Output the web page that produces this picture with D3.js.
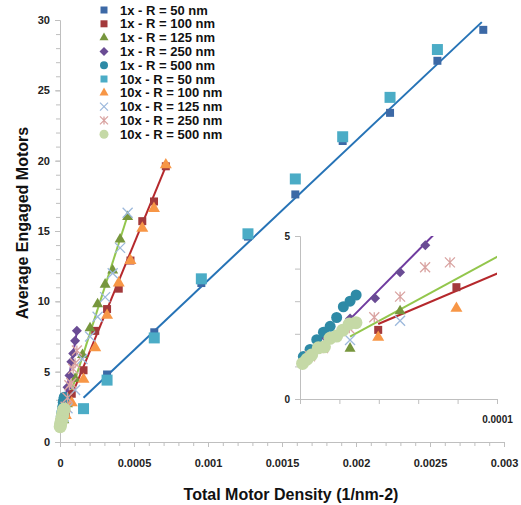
<!DOCTYPE html>
<html><head><meta charset="utf-8">
<script src="https://cdn.jsdelivr.net/npm/d3@7"></script>
<style>
body{margin:0;background:#fff;}
text{font-family:"Liberation Sans",Arial,sans-serif;font-weight:bold;}
</style>
</head><body>
<svg id="chart" width="521" height="505"></svg>
<script>
// ---------------- DATA ----------------
const seriesNames = ["1x - R = 50 nm","1x - R = 100 nm","1x - R = 125 nm","1x - R = 250 nm","1x - R = 500 nm",
  "10x - R = 50 nm","10x - R = 100 nm","10x - R = 125 nm","10x - R = 250 nm","10x - R = 500 nm"];

const x1_50  = [0.000318,0.000637,0.000955,0.00127,0.00159,0.00191,0.00223,0.00255,0.00286];
const y1_50  = [4.8,7.8,11.3,14.6,17.6,21.4,23.4,27.1,29.3];
const x1_100 = [0.0000397,0.0000794,0.000159,0.000238,0.000318,0.000397,0.000476,0.000556,0.000635,0.000715];
const y1_100 = [2.12,3.43,5.1,7.9,9.45,10.9,12.9,15.7,17.1,19.6];
const x1_125 = [0.0000254,0.0000508,0.000102,0.000152,0.000203,0.000254,0.000305,0.000356,0.000406,0.000457];
const y1_125 = [1.55,2.70,4.5,6.2,8.1,9.8,11.2,12.2,14.4,16.0];
const x1_250 = [0.0000127,0.0000254,0.0000381,0.0000508,0.0000636,0.0000763,0.000089,0.000102,0.000114];
const y1_250 = [1.9,2.47,3.09,3.89,4.72,5.7,6.3,7.2,7.9];
const x1_500 = [0.0000017,0.0000051,0.0000085,0.0000119,0.0000153,0.0000186,0.000022,0.0000254,0.0000285];
const y1_500 = [1.30,1.52,1.82,2.05,2.23,2.50,2.83,3.00,3.19];

const x10_50  = [0.000159,0.000318,0.000637,0.000955,0.00127,0.00159,0.00191,0.00223,0.00255];
const y10_50  = [2.37,4.4,7.4,11.6,14.8,18.7,21.7,24.5,27.9];
const x10_100 = [0.0000397,0.0000794,0.000159,0.000238,0.000318,0.000397,0.000476,0.000556,0.000635,0.000715];
const y10_100 = [1.89,2.78,4.45,6.7,9.0,11.3,12.9,15.2,16.6,19.7];
const x10_125 = [0.0000254,0.0000508,0.000102,0.000152,0.000203,0.000254,0.000305,0.000356,0.000406,0.000457];
const y10_125 = [1.81,2.40,3.7,5.9,7.5,8.9,10.3,12.0,13.8,16.3];
const x10_250 = [0.0000051,0.0000117,0.000025,0.0000377,0.0000508,0.0000635,0.0000761,0.000089,0.000102,0.000114];
const y10_250 = [1.31,1.56,2.17,2.51,3.14,4.04,4.19,5.2,5.6,6.5];
const x10_500 = [0.0000013,0.0000035,0.0000059,0.0000093,0.0000124,0.0000152,0.0000186,0.0000217,0.000025,0.0000284];
const y10_500 = [1.09,1.22,1.35,1.57,1.60,1.86,1.93,2.11,2.30,2.34];

// linear trendlines (start / end points)
const trendSeries = ["R = 50 nm","R = 100 nm","R = 125 nm","R = 250 nm"];
const trendX0 = [0.000159,0.0000397,0.0000254,0.0000254];
const trendY0 = [3.15,2.30,1.91,2.45];
const trendX1 = [0.00285,0.000715,0.000457,0.000114];
const trendY1 = [29.85,19.6,16.1,7.85];

// axis ticks
const mainXTicks = [0,0.0005,0.001,0.0015,0.002,0.0025,0.003];
const mainXLabels = ["0","0.0005","0.001","0.0015","0.002","0.0025","0.003"];
const mainYTicks = [0,5,10,15,20,25,30];
const mainYLabels = ["0","5","10","15","20","25","30"];
const insetXTicks = [0,0.00002,0.00004,0.00006,0.00008,0.0001];
const insetXLabels = ["","","","","","0.0001"];
const insetYTicks = [0,1,2,3,4,5];
const insetYLabels = ["0","","","","","5"];

// ---------------- STYLE ----------------
const xs = [x1_50,x1_100,x1_125,x1_250,x1_500,x10_50,x10_100,x10_125,x10_250,x10_500];
const ys = [y1_50,y1_100,y1_125,y1_250,y1_500,y10_50,y10_100,y10_125,y10_250,y10_500];
const styles = [
  {shape:"square",  fill:"#3C69A6", size:8},
  {shape:"square",  fill:"#A3393B", size:8},
  {shape:"triangle",fill:"#77963D", size:11},
  {shape:"diamond", fill:"#6A4C94", size:10},
  {shape:"circle",  fill:"#2E8AA6", size:11},
  {shape:"square",  fill:"#4BACC6", size:11},
  {shape:"triangle",fill:"#F79646", size:12},
  {shape:"x",       fill:"#9DB9DC", size:10},
  {shape:"star",    fill:"#D9A3A1", size:10},
  {shape:"circle",  fill:"#C5D9A6", size:13}
];
const legendSizes = [7,7,9,9,8,7,9,8,8,9];
const trendColors = ["#2673B6","#B5282C","#93C64C","#6F3B9F"];

function markerPath(shape, s){
  const h = s/2;
  switch(shape){
    case "square": return `M${-h},${-h}H${h}V${h}H${-h}Z`;
    case "triangle": { const hh = s*0.866; return `M0,${-hh*2/3}L${h},${hh/3}L${-h},${hh/3}Z`; }
    case "diamond": return `M0,${-h}L${h},0L0,${h}L${-h},0Z`;
    case "circle": return d3.symbol(d3.symbolCircle, Math.PI*h*h)();
    case "x": return `M${-h},${-h}L${h},${h}M${-h},${h}L${h},${-h}`;
    case "star": return `M${-h},${-h}L${h},${h}M${-h},${h}L${h},${-h}M0,${-h}V${h}`;
  }
}
function drawMarker(g, st, cx, cy, s){
  const p = g.append("path").attr("d", markerPath(st.shape, s)).attr("transform", `translate(${cx},${cy})`);
  if (st.shape==="x" || st.shape==="star") p.attr("fill","none").attr("stroke",st.fill).attr("stroke-width",1.3);
  else p.attr("fill",st.fill);
}

const svg = d3.select("#chart");
const axisColor = "#BFBFBF";
const labelColor = "#222";

function drawChart(xS, yS, xTicks, xLabels, yTicks, yLabels, xMinor, yMinor, fs, clipId){
  const [x0,x1] = xS.range(), [y0,y1] = yS.range();
  const g = svg.append("g");
  const gxm = g.append("g").attr("transform",`translate(0,${y0})`)
    .call(d3.axisBottom(xS).tickValues(xMinor).tickSize(4).tickFormat(""));
  const gym = g.append("g").attr("transform",`translate(${x0},0)`)
    .call(d3.axisLeft(yS).tickValues(yMinor).tickSize(4).tickFormat(""));
  [gxm,gym].forEach(a=>{a.select(".domain").remove(); a.selectAll("line").attr("stroke",axisColor);});
  const gx = g.append("g").attr("transform",`translate(0,${y0})`)
    .call(d3.axisBottom(xS).tickValues(xTicks).tickSize(5).tickPadding(12).tickFormat((d,i)=>xLabels[i]));
  const gy = g.append("g").attr("transform",`translate(${x0},0)`)
    .call(d3.axisLeft(yS).tickValues(yTicks).tickSize(5).tickPadding(5).tickFormat((d,i)=>yLabels[i]));
  [gx,gy].forEach(a=>{
    a.select(".domain").attr("stroke",axisColor);
    a.selectAll("line").attr("stroke",axisColor);
    a.selectAll("text").attr("fill",labelColor).style("font-size",fs+"px").style("font-family","Liberation Sans, Arial, sans-serif").style("font-weight","bold");
  });
  svg.append("clipPath").attr("id",clipId).append("rect")
    .attr("x",x0).attr("y",y1).attr("width",x1-x0).attr("height",y0-y1);
  const lg = g.append("g").attr("clip-path",`url(#${clipId})`);
  trendX0.forEach((tx,i)=>{
    lg.append("line").attr("x1",xS(tx)).attr("y1",yS(trendY0[i]))
      .attr("x2",xS(trendX1[i])).attr("y2",yS(trendY1[i]))
      .attr("stroke",trendColors[i]).attr("stroke-width",2);
  });
  const [dx0,dx1] = xS.domain(), [dy0,dy1] = yS.domain();
  const mg = g.append("g");
  xs.forEach((xa,si)=>{
    xa.forEach((xv,j)=>{
      const yv = ys[si][j];
      if (xv<dx0||xv>dx1||yv<dy0||yv>dy1) return;
      drawMarker(mg, styles[si], xS(xv), yS(yv), styles[si].size);
    });
  });
  return g;
}

const xMain = d3.scaleLinear().domain([0,0.003]).range([60,504]);
const yMain = d3.scaleLinear().domain([0,30]).range([442,20]);
drawChart(xMain, yMain, mainXTicks, mainXLabels, mainYTicks, mainYLabels,
  d3.range(0,31).map(i=>i*0.0001), d3.range(0,31), 11, "clipMain");

const xIn = d3.scaleLinear().domain([0,0.0001]).range([300,497]);
const yIn = d3.scaleLinear().domain([0,5]).range([399,236]);
drawChart(xIn, yIn, insetXTicks, insetXLabels, insetYTicks, insetYLabels,
  [], [], 10, "clipInset");

svg.append("text").attr("x",291).attr("y",500).attr("text-anchor","middle")
  .style("font-size","16px").attr("fill","#111").text("Total Motor Density (1/nm-2)");
svg.append("text").attr("transform","translate(28,223) rotate(-90)").attr("text-anchor","middle")
  .style("font-size","16px").attr("fill","#111").text("Average Engaged Motors");

const leg = svg.append("g");
seriesNames.forEach((name,i)=>{
  const cy = 10 + i*13.8;
  drawMarker(leg, styles[i], 104, cy, legendSizes[i]);
  leg.append("text").attr("x",120).attr("y",cy+4.5).style("font-size","13px").attr("fill","#111").text(name);
});
</script>
</body></html>
